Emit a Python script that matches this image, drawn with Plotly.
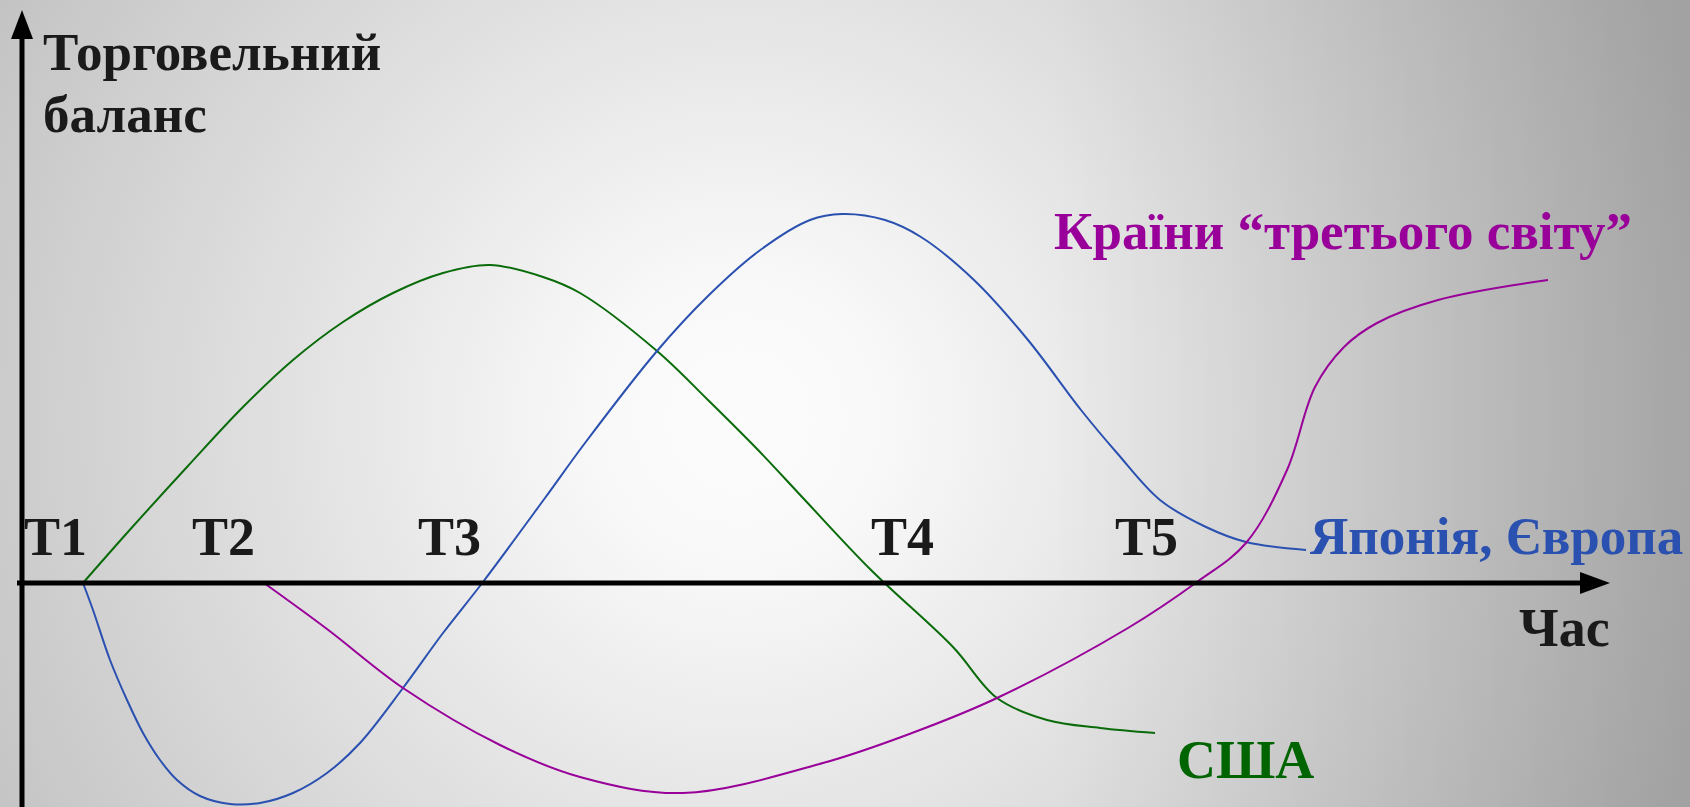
import base64
import plotly.graph_objects as go

# time axis (x) vs trade balance (y)
usa_t = [0.61, 1.05, 1.65, 2.21, 2.71, 3.21, 3.71, 4.21, 4.68, 5.21, 5.58, 6.35, 6.86,
         7.38, 7.81, 8.49, 9.31, 9.75, 10.25, 10.78, 11.33]
usa_bal = [0.0, 0.50, 1.16, 1.76, 2.23, 2.61, 2.90, 3.10, 3.18, 3.06, 2.90, 2.32, 1.83,
           1.31, 0.85, 0.13, -0.64, -1.15, -1.37, -1.45, -1.50]

jp_eu_t = [0.61, 0.71, 0.88, 1.05, 1.21, 1.38, 1.55, 1.78, 2.08, 2.38, 2.71, 3.05, 3.38,
           3.81, 4.21, 4.61, 5.23, 5.63, 6.35, 6.86, 7.37, 7.88, 8.20, 8.63, 8.99, 9.52,
           10.06, 10.59, 10.95, 11.38, 11.84, 12.24, 12.84]
jp_eu_bal = [0.0, -0.27, -0.77, -1.17, -1.50, -1.77, -1.97, -2.13, -2.21, -2.20, -2.10, -1.90, -1.60,
             -1.05, -0.50, 0.01, 0.85, 1.40, 2.32, 2.87, 3.32, 3.63, 3.69, 3.63, 3.46, 3.03,
             2.43, 1.73, 1.30, 0.83, 0.56, 0.41, 0.33]

third_t = [2.42, 3.05, 3.81, 4.78, 5.58, 6.61, 8.01, 8.90, 9.75, 11.06, 11.75,
           12.24, 12.65, 12.93, 13.22, 13.55, 14.16, 15.26]
third_bal = [0.0, -0.46, -1.05, -1.62, -1.94, -2.10, -1.80, -1.50, -1.15, -0.45, 0.01,
             0.40, 1.13, 1.96, 2.36, 2.60, 2.83, 3.03]

time_marks = ["T1", "T2", "T3", "T4", "T5"]
time_mark_t = [0.33, 2.01, 4.27, 8.80, 11.24]

GREEN = "#0a6b0a"
BLUE = "#2a50b0"
PURPLE = "#990099"
INK = "#1a1a1a"
FONT = "Liberation Serif"

fig = go.Figure()
for t, b, c in [(usa_t, usa_bal, GREEN), (jp_eu_t, jp_eu_bal, BLUE), (third_t, third_bal, PURPLE)]:
    fig.add_trace(go.Scatter(x=t, y=b, mode="lines", hoverinfo="skip",
                             line=dict(color=c, width=2, shape="spline", smoothing=1.0,
                                       simplify=False)))

# axes drawn as arrows
fig.add_shape(type="line", x0=-0.05, y0=0, x1=15.6, y1=0, line=dict(color="black", width=5))
fig.add_shape(type="path", path="M 15.58 0.11 L 15.88 0 L 15.58 -0.11 Z",
              fillcolor="black", line=dict(width=0))
fig.add_shape(type="line", x0=0, y0=-2.4, x1=0, y1=5.47, line=dict(color="black", width=5))
fig.add_shape(type="path", path="M -0.11 5.44 L 0 5.73 L 0.11 5.44 Z",
              fillcolor="black", line=dict(width=0))


def label(text, x, y, color, size=54, xanchor="left"):
    fig.add_annotation(x=x, y=y, text="<b>" + text + "</b>", showarrow=False,
                       xanchor=xanchor, yanchor="middle",
                       font=dict(family=FONT, size=size, color=color))


label("Торговельний", 0.19, 5.31, INK, size=53)
label("баланс", 0.19, 4.69, INK, size=53)
for name, t in zip(time_marks, time_mark_t):
    label(name, t, 0.46, INK, xanchor="center")
label("Японія, Європа", 12.86, 0.47, BLUE, size=53)
label("Країни “третього світу”", 10.30, 3.52, PURPLE, size=53)
label("Час", 15.90, -0.45, INK, xanchor="right")
label("США", 11.53, -1.77, "#006400")

# grey radial backdrop, darker towards the right
svg = ("<svg xmlns='http://www.w3.org/2000/svg' width='1690' height='807'>"
       "<defs><radialGradient id='g' gradientUnits='userSpaceOnUse' cx='740' cy='420' r='1000'>"
       "<stop offset='0' stop-color='#fcfcfc'/><stop offset='0.15' stop-color='#f8f8f8'/>"
       "<stop offset='1' stop-color='#b8b8b8'/></radialGradient>"
       "<linearGradient id='s' gradientUnits='userSpaceOnUse' x1='1050' y1='0' x2='1690' y2='0'>"
       "<stop offset='0' stop-color='#000' stop-opacity='0'/>"
       "<stop offset='1' stop-color='#000' stop-opacity='0.12'/></linearGradient></defs>"
       "<rect width='1690' height='807' fill='url(#g)'/>"
       "<rect width='1690' height='807' fill='url(#s)'/></svg>")
bg = "data:image/svg+xml;base64," + base64.b64encode(svg.encode()).decode()
fig.add_layout_image(source=bg, xref="paper", yref="paper", x=0, y=1, sizex=1, sizey=1,
                     xanchor="left", yanchor="top", sizing="stretch", layer="below")

fig.update_layout(width=1690, height=807, margin=dict(l=0, r=0, t=0, b=0),
                  showlegend=False, paper_bgcolor="#e0e0e0", plot_bgcolor="rgba(0,0,0,0)",
                  xaxis=dict(range=[-0.22, 16.68], visible=False, fixedrange=True),
                  yaxis=dict(range=[-2.24, 5.83], visible=False, fixedrange=True))

fig.write_html("out.html", config={"displayModeBar": False},
               post_script="document.body.style.margin='0';")
